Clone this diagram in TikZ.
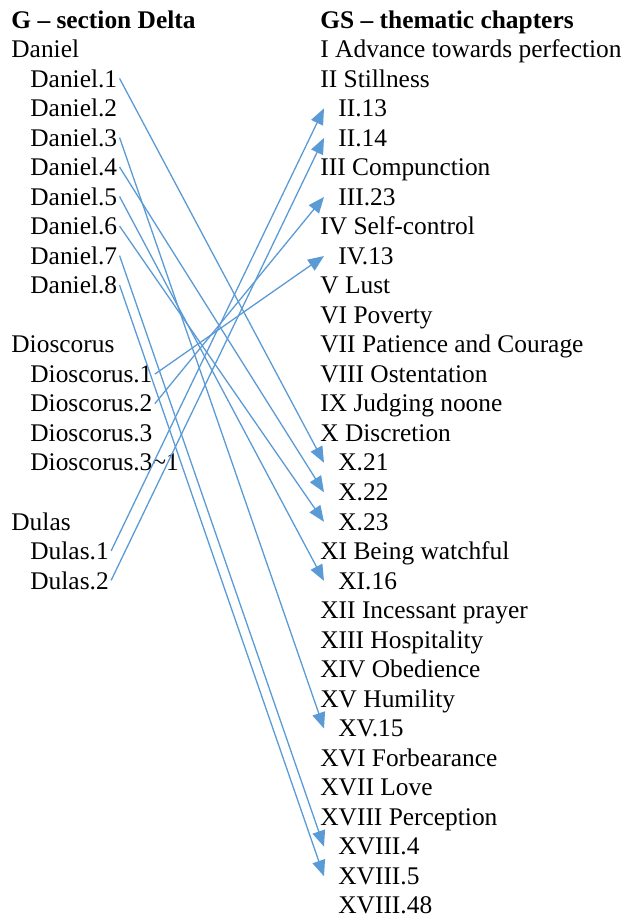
\documentclass[tikz,border=0pt]{standalone}
\usepackage{fontspec}
\setmainfont{Liberation Serif}
\usetikzlibrary{arrows.meta}
\definecolor{linkblue}{RGB}{91,155,213}
\begin{document}
\begin{tikzpicture}[x=0.5pt,y=-0.5pt,
  txt/.style={anchor=base west, inner sep=1pt, font=\fontsize{12.7}{14}\selectfont},
  sub/.style={txt, execute at begin node={\hspace*{6pt}}},
  head/.style={anchor=base west, inner sep=1pt, font=\fontsize{12.7}{14}\selectfont\bfseries},
  link/.style={draw=linkblue, line width=0.65pt, -{Triangle[length=8pt,width=6.5pt]}}]
\useasboundingbox (0,0) rectangle (628,921);
% left column
\node[head] (hl) at (9,{28+29.53*0}) {G – section Delta};
\node[txt] (dan) at (9,{28+29.53*1}) {Daniel};
\node[txt] (dan1) at (28,{28+29.53*2}) {Daniel.1};
\node[txt] (dan2) at (28,{28+29.53*3}) {Daniel.2};
\node[txt] (dan3) at (28,{28+29.53*4}) {Daniel.3};
\node[txt] (dan4) at (28,{28+29.53*5}) {Daniel.4};
\node[txt] (dan5) at (28,{28+29.53*6}) {Daniel.5};
\node[txt] (dan6) at (28,{28+29.53*7}) {Daniel.6};
\node[txt] (dan7) at (28,{28+29.53*8}) {Daniel.7};
\node[txt] (dan8) at (28,{28+29.53*9}) {Daniel.8};
\node[txt] (dio) at (9,{28+29.53*11}) {Dioscorus};
\node[txt] (dio1) at (28,{28+29.53*12}) {Dioscorus.1};
\node[txt] (dio2) at (28,{28+29.53*13}) {Dioscorus.2};
\node[txt] (dio3) at (28,{28+29.53*14}) {Dioscorus.3};
\node[txt] (dio31) at (28,{28+29.53*15}) {Dioscorus.3\textasciitilde1};
\node[txt] (dul) at (9,{28+29.53*17}) {Dulas};
\node[txt] (dul1) at (28,{28+29.53*18}) {Dulas.1};
\node[txt] (dul2) at (28,{28+29.53*19}) {Dulas.2};
% right column
\node[head] (hr) at (318,{28+29.53*0}) {GS – thematic chapters};
\node[txt] (c1) at (318,{28+29.53*1}) {I Advance towards perfection};
\node[txt] (c2) at (318,{28+29.53*2}) {II Stillness};
\node[sub] (ii13) at (324,{28+29.53*3}) {II.13};
\node[sub] (ii14) at (324,{28+29.53*4}) {II.14};
\node[txt] (c3) at (318,{28+29.53*5}) {III Compunction};
\node[sub] (iii23) at (324,{28+29.53*6}) {III.23};
\node[txt] (c4) at (318,{28+29.53*7}) {IV Self-control};
\node[sub] (iv13) at (324,{28+29.53*8}) {IV.13};
\node[txt] (c5) at (318,{28+29.53*9}) {V Lust};
\node[txt] (c6) at (318,{28+29.53*10}) {VI Poverty};
\node[txt] (c7) at (318,{28+29.53*11}) {VII Patience and Courage};
\node[txt] (c8) at (318,{28+29.53*12}) {VIII Ostentation};
\node[txt] (c9) at (318,{28+29.53*13}) {IX Judging noone};
\node[txt] (c10) at (318,{28+29.53*14}) {X Discretion};
\node[sub] (x21) at (324,{28+29.53*15}) {X.21};
\node[sub] (x22) at (324,{28+29.53*16}) {X.22};
\node[sub] (x23) at (324,{28+29.53*17}) {X.23};
\node[txt] (c11) at (318,{28+29.53*18}) {XI Being watchful};
\node[sub] (xi16) at (324,{28+29.53*19}) {XI.16};
\node[txt] (c12) at (318,{28+29.53*20}) {XII Incessant prayer};
\node[txt] (c13) at (318,{28+29.53*21}) {XIII Hospitality};
\node[txt] (c14) at (318,{28+29.53*22}) {XIV Obedience};
\node[txt] (c15) at (318,{28+29.53*23}) {XV Humility};
\node[sub] (xv15) at (324,{28+29.53*24}) {XV.15};
\node[txt] (c16) at (318,{28+29.53*25}) {XVI Forbearance};
\node[txt] (c17) at (318,{28+29.53*26}) {XVII Love};
\node[txt] (c18) at (318,{28+29.53*27}) {XVIII Perception};
\node[sub] (xviii4) at (324,{28+29.53*28}) {XVIII.4};
\node[sub] (xviii5) at (324,{28+29.53*29}) {XVIII.5};
\node[sub] (xviii48) at (324,{28+29.53*30}) {XVIII.48};
% connectors
\draw[link] (dan1.east) -- (x21.west);
\draw[link] (dan3.east) -- (xv15.west);
\draw[link] (dan4.east) -- (x22.west);
\draw[link] (dan5.east) -- (xi16.west);
\draw[link] (dan6.east) -- (x23.west);
\draw[link] (dan7.east) -- (xviii4.west);
\draw[link] (dan8.east) -- (xviii5.west);
\draw[link] (dio1.east) -- (iv13.west);
\draw[link] (dio2.east) -- (iii23.west);
\draw[link] (dul1.east) -- (ii13.west);
\draw[link] (dul2.east) -- (ii14.west);
\end{tikzpicture}
\end{document}
